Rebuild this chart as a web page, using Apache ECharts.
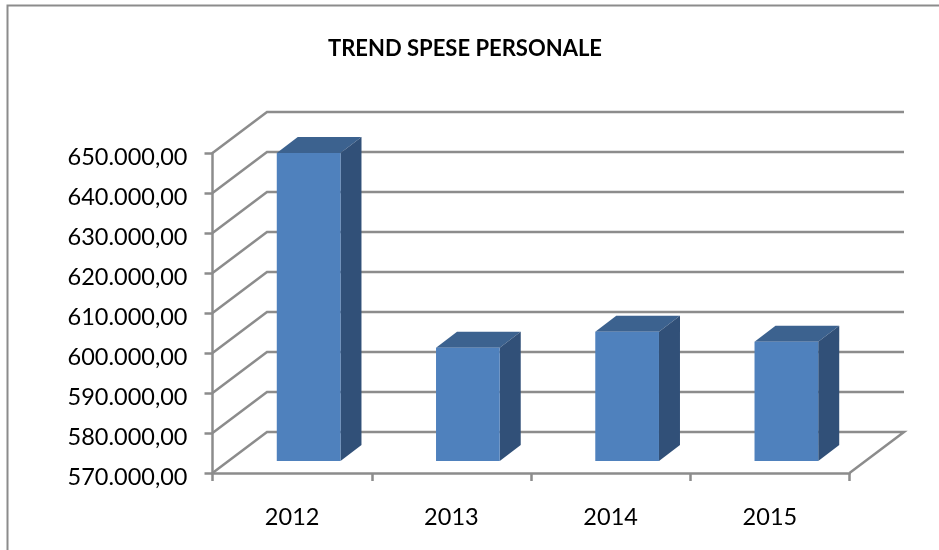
<!DOCTYPE html>
<html>
<head>
<meta charset="utf-8">
<title>Trend spese personale</title>
<style>
  html, body { margin: 0; background: #fff; }
  #chart { width: 939px; height: 550px; }
</style>
</head>
<body>
<div id="chart"></div>
<script src="https://cdn.jsdelivr.net/npm/echarts@6/dist/echarts.min.js"></script>
<script>
const years = ["2012", "2013", "2014", "2015"];
const spese = [647000, 598300, 602300, 599800];
const wallTicks = [570000, 580000, 590000, 600000, 610000, 620000, 630000, 640000, 650000];

const lineColor = "#8c8c8c";
const wallDepth = [54.5, -41];   // offset from the front of the floor to the back wall
const barShift = [16.5, -12];    // bars stand part way into the depth
const barDepth = [21, -16];

function euro(v) {
  return String(Math.floor(v)).replace(/\B(?=(\d{3})+$)/g, ".") + ",00";
}

function renderWall(params, api) {
  const v = api.value(1);
  const sys = params.coordSys;
  const y = api.coord([0, v])[1];
  const left = sys.x;
  const right = sys.x + sys.width;
  const pts = [
    [left, y],
    [left + wallDepth[0], y + wallDepth[1]],
    [right + wallDepth[0], y + wallDepth[1]],
  ];
  // the floor also closes on the right
  if (v === wallTicks[0]) pts.push([right, y]);
  return {
    type: "polyline",
    shape: { points: pts },
    style: { stroke: lineColor, lineWidth: 2.5, fill: null },
  };
}

function renderBar(params, api) {
  const i = api.value(0);
  const top = api.coord([i, api.value(1)]);
  const base = api.coord([i, wallTicks[0]]);
  const w = api.size([1, 0])[0] * 0.4;
  const x0 = top[0] - w / 2 + barShift[0];
  const x1 = x0 + w;
  const yt = top[1] + barShift[1];
  const yb = base[1] + barShift[1];
  const dx = barDepth[0];
  const dy = barDepth[1];
  return {
    type: "group",
    children: [
      {
        type: "polygon",
        shape: { points: [[x0, yt], [x1, yt], [x1 + dx, yt + dy], [x0 + dx, yt + dy]] },
        style: { fill: "#3c628f" },
      },
      {
        type: "polygon",
        shape: { points: [[x1, yt], [x1 + dx, yt + dy], [x1 + dx, yb + dy], [x1, yb]] },
        style: { fill: "#315078" },
      },
      {
        type: "rect",
        shape: { x: x0, y: yt, width: w, height: yb - yt },
        style: { fill: "#4f81bd" },
      },
    ],
  };
}

const chart = echarts.init(document.getElementById("chart"));

chart.setOption({
  animation: false,
  backgroundColor: "#fff",
  textStyle: { fontFamily: "Lato" },
  title: {
    text: "TREND SPESE PERSONALE",
    left: 323,
    top: 33,
    textStyle: { fontFamily: "Lato", fontSize: 22, fontWeight: 700, color: "#000" },
  },
  graphic: [
    {
      type: "polyline",
      silent: true,
      shape: { points: [[7.5, 550], [7.5, 5.5], [939, 5.5]] },
      style: { stroke: "#8c8c8c", lineWidth: 2, fill: null },
    },
  ],
  grid: { left: 212.5, right: 89.5, top: 153, bottom: 77 },
  xAxis: {
    type: "category",
    data: years,
    axisLine: { lineStyle: { color: lineColor, width: 2.5 } },
    axisTick: { show: true, length: 8, lineStyle: { color: lineColor, width: 2.5 } },
    axisLabel: { color: "#000", fontSize: 23.5, margin: 32 },
    splitLine: { show: false },
  },
  yAxis: {
    type: "value",
    min: 570000,
    max: 650000,
    interval: 10000,
    axisLine: { show: true, lineStyle: { color: lineColor, width: 2.5 } },
    axisTick: { show: true, length: 8, lineStyle: { color: lineColor, width: 2.5 } },
    axisLabel: {
      color: "#000",
      fontSize: 23.5,
      margin: 25,
      verticalAlign: "top",
      lineHeight: 8,
      formatter: euro,
    },
    splitLine: { show: false },
  },
  series: [
    {
      type: "custom",
      silent: true,
      clip: false,
      z: 1,
      renderItem: renderWall,
      data: wallTicks.map((v) => [0, v]),
    },
    {
      type: "custom",
      silent: true,
      clip: false,
      z: 3,
      renderItem: renderBar,
      data: spese.map((v, i) => [i, v]),
    },
  ],
});
</script>
</body>
</html>
